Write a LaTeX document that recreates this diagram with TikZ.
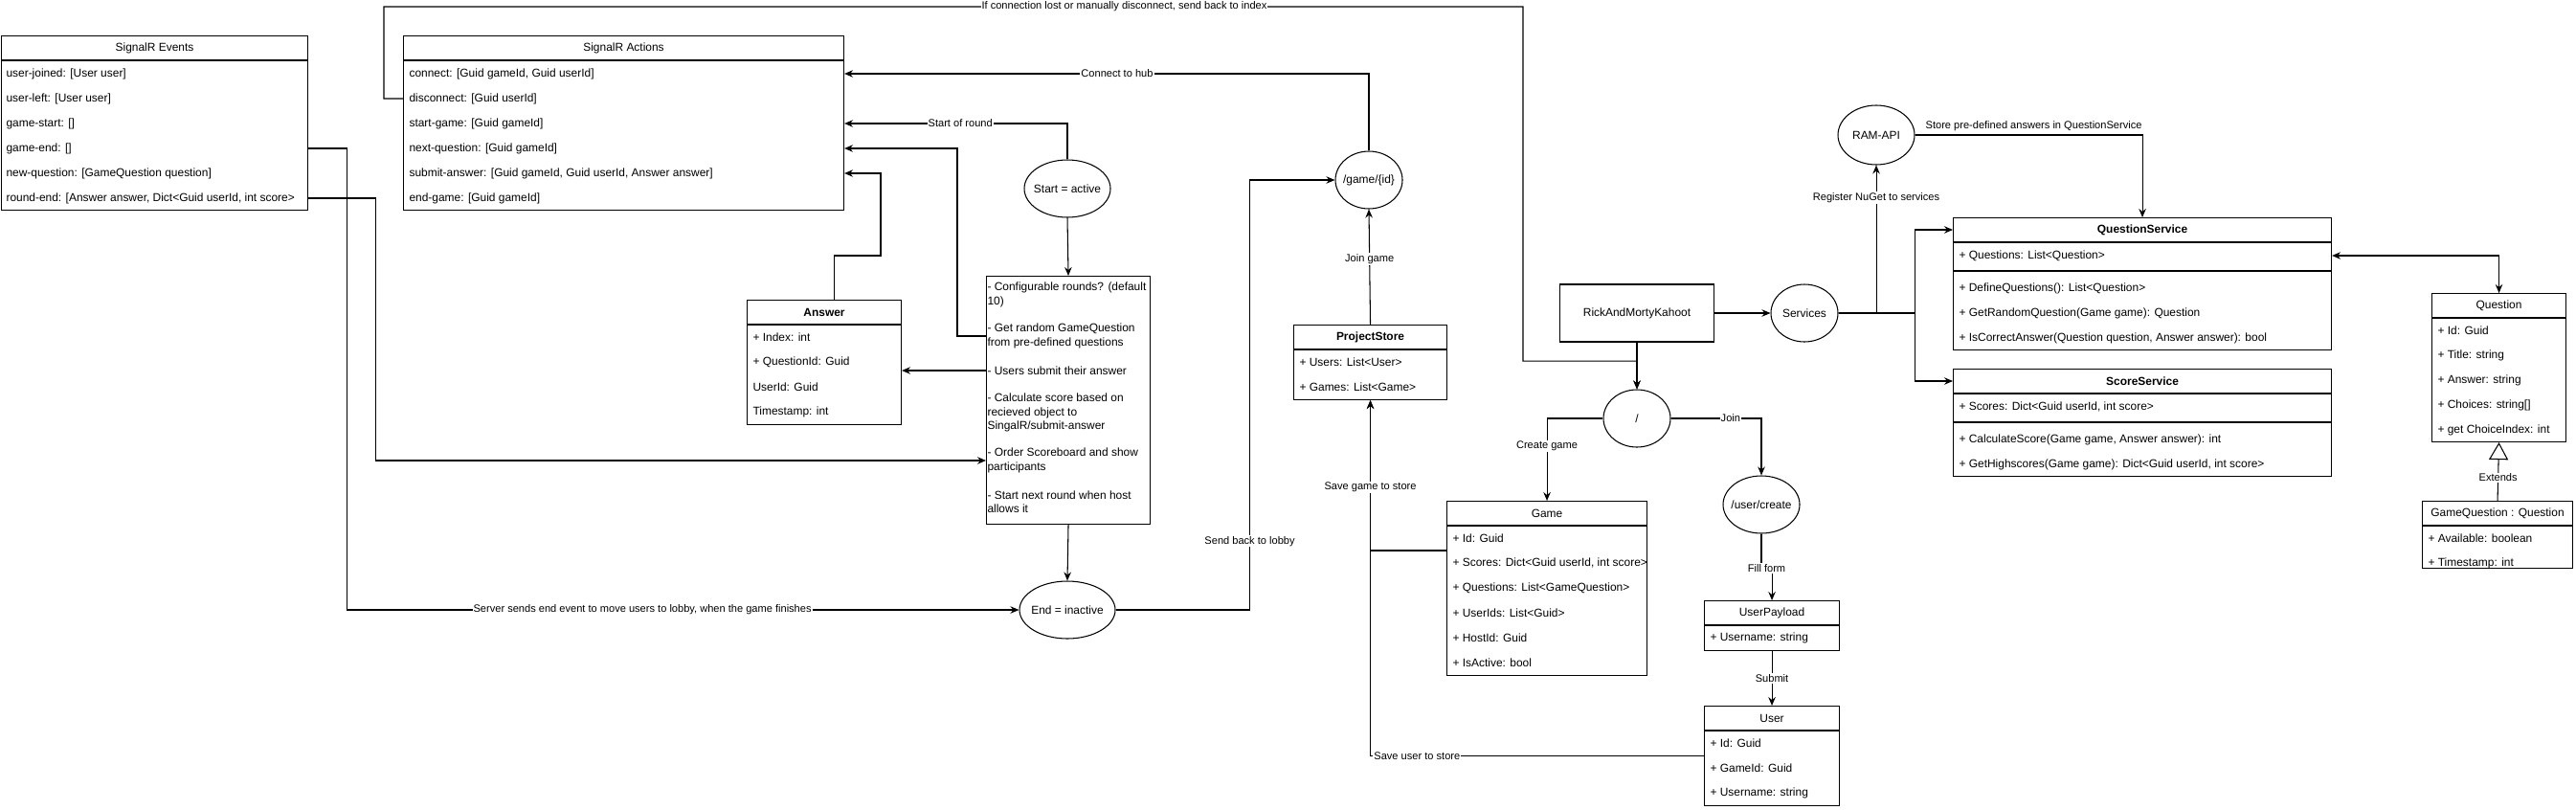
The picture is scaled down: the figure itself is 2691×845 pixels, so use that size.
\documentclass[tikz,border=0pt]{standalone}
\usepackage{fontspec}
\setmainfont{Liberation Sans}
\usetikzlibrary{arrows.meta,calc,shapes.geometric}

\begin{document}
\begin{tikzpicture}[x=0.2mm,y=-0.2mm,line width=0.6pt,
  font=\fontsize{6.8}{8.2}\selectfont,
  box/.style={draw,rectangle,anchor=north west,inner sep=0pt},
  hdr/.style={inner sep=0pt},
  row/.style={anchor=west,inner sep=0pt},
  item/.style={anchor=west,align=left,inner sep=0pt},
  state/.style={draw,ellipse,inner ysep=0pt,inner xsep=-3mm,minimum height=12mm},
  lbl/.style={fill=white,inner sep=0.6pt,font=\fontsize{6.3}{7.5}\selectfont},
  arr/.style={-{Stealth[length=1.8mm,width=1.5mm,inset=0.6mm]}},
  darr/.style={{Stealth[length=1.8mm,width=1.5mm,inset=0.6mm]}-{Stealth[length=1.8mm,width=1.5mm,inset=0.6mm]}}]
\useasboundingbox (0,0) rectangle (2691,845);

% SignalR Events
\node[box,minimum width=64mm,minimum height=36.4mm] (evt) at (1,37) {};
\node[hdr] (evth) at ([yshift=-2.6mm]evt.north) {SignalR Events};
\node[row] (ev1) at (6,77) {user-joined: [User user]};
\node[row] (ev2) at (6,103) {user-left: [User user]};
\node[row] (ev3) at (6,129) {game-start: []};
\node[row] (ev4) at (6,155) {game-end: []};
\node[row] (ev5) at (6,181) {new-question: [GameQuestion question]};
\node[row] (ev6) at (6,207) {round-end: [Answer answer, Dict<Guid userId, int score>};

% SignalR Actions
\node[box,minimum width=92mm,minimum height=36.4mm] (act) at (421,37) {};
\node[hdr] (acth) at ([yshift=-2.6mm]act.north) {SignalR Actions};
\node[row] (ac1) at (427,77) {connect: [Guid gameId, Guid userId]};
\node[row] (ac2) at (427,103) {disconnect: [Guid userId]};
\node[row] (ac3) at (427,129) {start-game: [Guid gameId]};
\node[row] (ac4) at (427,155) {next-question: [Guid gameId]};
\node[row] (ac5) at (427,181) {submit-answer: [Guid gameId, Guid userId, Answer answer]};
\node[row] (ac6) at (427,207) {end-game: [Guid gameId]};

% Answer
\node[box,minimum width=32.2mm,minimum height=26mm] (ans) at (780,313) {};
\node[hdr] (ansh) at ([yshift=-2.6mm]ans.north) {\bfseries Answer};
\node[row] (an1) at (786,352) {+ Index: int};
\node[row] (an2) at (786,378) {+ QuestionId: Guid};
\node[row] (an3) at (786,404) {UserId: Guid};
\node[row] (an4) at (786,430) {Timestamp: int};

% game loop
\node[state,minimum width=18mm] (start) at (1115,197) {Start = active};
\node[box,minimum width=34.2mm,minimum height=51.8mm] (task) at (1030,288) {};
\node[item] (t1) at (1031,308) {- Configurable rounds? (default\\10)};
\node[item] (t2) at (1031,351) {- Get random GameQuestion\\from pre-defined questions};
\node[item] (t3) at (1031,387) {- Users submit their answer};
\node[item] (t4) at (1031,431) {- Calculate score based on\\recieved object to\\SingalR/submit-answer};
\node[item] (t5) at (1031,481) {- Order Scoreboard and show\\participants};
\node[item] (t6) at (1031,524) {- Start next round when host\\allows it};
\node[state,minimum width=20mm] (endn) at (1115,637) {End = inactive};

% ProjectStore
\node[state,minimum width=14mm] (gid) at (1430,188) {/game/\{id\}};
\node[box,minimum width=32mm,minimum height=15.6mm] (ps) at (1351,339) {};
\node[hdr] (psh) at ([yshift=-2.6mm]ps.north) {\bfseries ProjectStore};
\node[row] (ps1) at (1357,378) {+ Users: List<User>};
\node[row] (ps2) at (1357,404) {+ Games: List<Game>};

% Game
\node[box,minimum width=41.8mm,minimum height=36.4mm] (game) at (1511,523) {};
\node[hdr] (gameh) at ([yshift=-2.6mm]game.north) {Game};
\node[row] (g1) at (1517,562) {+ Id: Guid};
\node[row] (g2) at (1517,588) {+ Scores: Dict<Guid userId, int score>};
\node[row] (g3) at (1517,614) {+ Questions: List<GameQuestion>};
\node[row] (g4) at (1517,640) {+ UserIds: List<Guid>};
\node[row] (g5) at (1517,666) {+ HostId: Guid};
\node[row] (g6) at (1517,692) {+ IsActive: bool};

% app and routes
\node[draw,minimum width=32.2mm,minimum height=12mm] (ramk) at (1710,327) {RickAndMortyKahoot};
\node[state,minimum width=14mm] (svc) at (1885,327) {Services};
\node[state,minimum width=14mm] (root) at (1710,437) {/};
\node[state,minimum width=16mm] (uc) at (1840,527) {/user/create};
\node[state,minimum width=16mm,minimum height=12.4mm] (ram) at (1960,141) {RAM-API};

% UserPayload and User
\node[box,minimum width=28.2mm,minimum height=10.4mm] (up) at (1780,627) {};
\node[hdr] (uph) at ([yshift=-2.6mm]up.north) {UserPayload};
\node[row] (up1) at (1786,666) {+ Username: string};
\node[box,minimum width=28.2mm,minimum height=20.8mm] (usr) at (1780,737) {};
\node[hdr] (usrh) at ([yshift=-2.6mm]usr.north) {User};
\node[row] (us1) at (1786,776) {+ Id: Guid};
\node[row] (us2) at (1786,802) {+ GameId: Guid};
\node[row] (us3) at (1786,828) {+ Username: string};

% services
\node[box,minimum width=79mm,minimum height=27.6mm] (qs) at (2040,227) {};
\node[hdr] (qsh) at ([yshift=-2.6mm]qs.north) {\bfseries QuestionService};
\node[row] (qs1) at (2046,267) {+ Questions: List<Question>};
\node[row] (qs2) at (2046,301) {+ DefineQuestions(): List<Question>};
\node[row] (qs3) at (2046,327) {+ GetRandomQuestion(Game game): Question};
\node[row] (qs4) at (2046,353) {+ IsCorrectAnswer(Question question, Answer answer): bool};
\node[box,minimum width=79mm,minimum height=22.4mm] (ss) at (2040,385) {};
\node[hdr] (ssh) at ([yshift=-2.6mm]ss.north) {\bfseries ScoreService};
\node[row] (ss1) at (2046,425) {+ Scores: Dict<Guid userId, int score>};
\node[row] (ss2) at (2046,459) {+ CalculateScore(Game game, Answer answer): int};
\node[row] (ss3) at (2046,485) {+ GetHighscores(Game game): Dict<Guid userId, int score>};

% Question
\node[box,minimum width=28mm,minimum height=31mm] (q) at (2540,306) {};
\node[hdr] (qh) at ([yshift=-2.6mm]q.north) {Question};
\node[row] (q1) at (2546,345) {+ Id: Guid};
\node[row] (q2) at (2546,371) {+ Title: string};
\node[row] (q3) at (2546,397) {+ Answer: string};
\node[row] (q4) at (2546,423) {+ Choices: string[]};
\node[row] (q5) at (2546,449) {+ get ChoiceIndex: int};
\node[box,minimum width=31.4mm,minimum height=14mm] (gq) at (2530,523) {};
\node[hdr] (gqh) at ([yshift=-2.6mm]gq.north) {GameQuestion : Question};
\node[row] (gq1) at (2536,562) {+ Available: boolean};
\node[row] (gq2) at (2536,588) {+ Timestamp: int};

% separators
\foreach \b in {evt,act,ans,ps,game,up,usr,qs,ss,q,gq}
  \draw ([yshift=-5.2mm]\b.north west) -- ([yshift=-5.2mm]\b.north east);
\draw ([yshift=-11.2mm]qs.north west) -- ([yshift=-11.2mm]qs.north east);
\draw ([yshift=-11.2mm]ss.north west) -- ([yshift=-11.2mm]ss.north east);

% connectors
\coordinate (lostL) at (401,7);
\coordinate (lostR) at (1591,7);
\draw[arr] (act.west |- ac2) -| (lostL) -- node[lbl,pos=0.65]{If connection lost or manually disconnect, send back to index} (lostR) |- ($(ramk.south)!0.4!(root.north)$) -- (root.north);
\draw[arr] (evt.east |- ev4) -- ++(40,0) |- node[lbl,pos=0.72]{Server sends end event to move users to lobby, when the game finishes} (endn.west);
\draw[arr] (evt.east |- ev6) -- ++(70,0) |- (task.west |- t5);
\draw[arr] (gid.north) |- node[lbl,pos=0.74]{Connect to hub} (act.east |- ac1);
\draw[arr] (start.north) |- node[lbl,pos=0.74]{Start of round} (act.east |- ac3);
\draw[arr] (task.west |- t2) -- ++(-30,0) |- (act.east |- ac4);
\coordinate (subBend) at (920,267);
\draw[arr] ([xshift=2mm]ans.north) |- (subBend) |- (act.east |- ac5);
\draw[arr] (task.west |- t3) -- (ans.east |- t3);
\draw[arr] (start.south) -- (task.north);
\draw[arr] (task.south) -- (endn.north);
\draw[arr] (endn.east) -- ++(140,0) |- node[lbl,pos=0.08]{Send back to lobby} (gid.west);
\draw[arr] (ps.north) -- node[lbl,pos=0.57]{Join game} (gid.south);
\draw[arr] (usr.west) -| node[lbl,pos=0.43]{Save user to store} (ps.south);
\draw[arr] ($(game.west |- g1)!0.5!(game.west |- g2)$) -| node[lbl,pos=0.71]{Save game to store} (ps.south);
\draw[arr] (ramk.south) -- (root.north);
\draw[arr] (ramk.east) -- (svc.west);
\draw[arr] (root.west) -| node[lbl,pos=0.67]{Create game} (game.north);
\draw[arr] (root.east) -| node[lbl,pos=0.33]{Join} (uc.north);
\draw[arr] (uc.south) -- ++(0,36) -| node[lbl,pos=0.25]{Fill form} (up.north);
\draw[arr] (up.south) -- node[lbl]{Submit} (usr.north);
\draw[arr] (svc.east) -| node[lbl,pos=0.89]{Register NuGet to services} (ram.south);
\draw[arr] (svc.east) -- ++(80,0) |- (qs.west |- qsh);
\draw[arr] (svc.east) -- ++(80,0) |- (ss.west |- ssh);
\draw[arr] (ram.east) -| node[lbl,fill=none,anchor=south west,pos=0.02,yshift=0.6mm]{Store pre-defined answers in QuestionService} (qs.north);
\draw[darr] (qs.east |- qs1) -| (q.north);
\draw[-{Triangle[open,length=3.6mm,width=4mm]}] (gq.north) -- node[lbl,pos=0.4]{Extends} (q.south);
\end{tikzpicture}
\end{document}
